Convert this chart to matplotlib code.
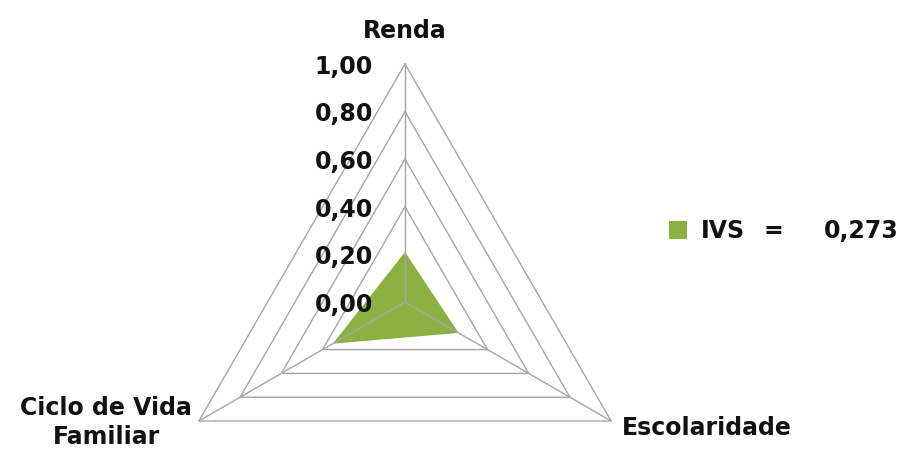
import numpy as np
import matplotlib
matplotlib.use("Agg")
import matplotlib.pyplot as plt
from matplotlib.patches import Patch

# data
categories = ["Renda", "Escolaridade", "Ciclo de Vida\nFamiliar"]
values = [0.21, 0.26, 0.35]
levels = [0.2, 0.4, 0.6, 0.8, 1.0]
tick_labels = ["0,00", "0,20", "0,40", "0,60", "0,80", "1,00"]
series_name = "IVS"
ivs_value = "0,273"

plt.rcParams['font.family'] = ['DejaVu Sans']
FS = 17
GRID = "#a6a6a6"
GREEN = "#8bb142"
TXT = "#111111"

fig = plt.figure(figsize=(9.06, 4.57), dpi=100)
# center ~ (405, 302) px, radius ~ 238 px
cx, cy, R = 405, 302, 238
W, H = 906, 457
ax = fig.add_axes([(cx - R) / W, (H - cy - R) / H, 2 * R / W, 2 * R / H],
                  projection="polar")
ax.set_theta_offset(np.pi / 2)
ax.set_theta_direction(-1)
ax.set_ylim(0, 1)
ax.grid(False)
ax.set_xticks([])
ax.set_yticks([])
ax.spines["polar"].set_visible(False)
ax.patch.set_alpha(0)

theta = np.linspace(0, 2 * np.pi, len(categories), endpoint=False)
tclosed = np.append(theta, theta[0])

# rings
for lv in levels:
    ax.plot(tclosed, [lv] * len(tclosed), color=GRID, lw=1.0, zorder=1, clip_on=False)

# series
vclosed = values + values[:1]
ax.fill(tclosed, vclosed, color=GREEN, lw=0, zorder=2, clip_on=False)

# spokes
for t in theta:
    ax.plot([t, t], [0, 1], color=GRID, lw=1.0, zorder=3, clip_on=False)

# radial tick labels
for i, lab in enumerate(tick_labels):
    r = i * 0.2
    ax.annotate(lab, xy=(0, r), xytext=(-23, -2), textcoords="offset points",
                ha="right", va="center", fontsize=FS, fontweight="bold",
                color=TXT, zorder=5, annotation_clip=False)

# category labels
ax.annotate(categories[0], xy=(theta[0], 1), xytext=(0, 24), textcoords="offset points",
            ha="center", va="center", fontsize=FS, fontweight="bold", color=TXT,
            annotation_clip=False)
ax.annotate(categories[1], xy=(theta[1], 1), xytext=(8, -5), textcoords="offset points",
            ha="left", va="center", fontsize=FS, fontweight="bold", color=TXT,
            annotation_clip=False)
ax.annotate(categories[2], xy=(theta[2], 1), xytext=(-5, -1), textcoords="offset points",
            ha="right", va="center", multialignment="center", fontsize=FS,
            fontweight="bold", color=TXT, linespacing=1.3, annotation_clip=False)

# legend
handle = Patch(facecolor=GREEN, edgecolor="none")
fig.legend([handle], [series_name], loc="center left",
           bbox_to_anchor=(669 / W, 1 - 231 / H), frameon=False,
           borderpad=0, borderaxespad=0, handlelength=0.78, handleheight=0.78,
           handletextpad=0.55, prop={"size": FS, "weight": "bold"}, labelcolor=TXT)
fig.text(773 / W, 1 - 231 / H, "=", ha="center", va="center", fontsize=FS,
         fontweight="bold", color=TXT)
fig.text(824 / W, 1 - 231 / H, ivs_value, ha="left", va="center", fontsize=FS,
         fontweight="bold", color=TXT)

fig.savefig("out.png", dpi=100)
